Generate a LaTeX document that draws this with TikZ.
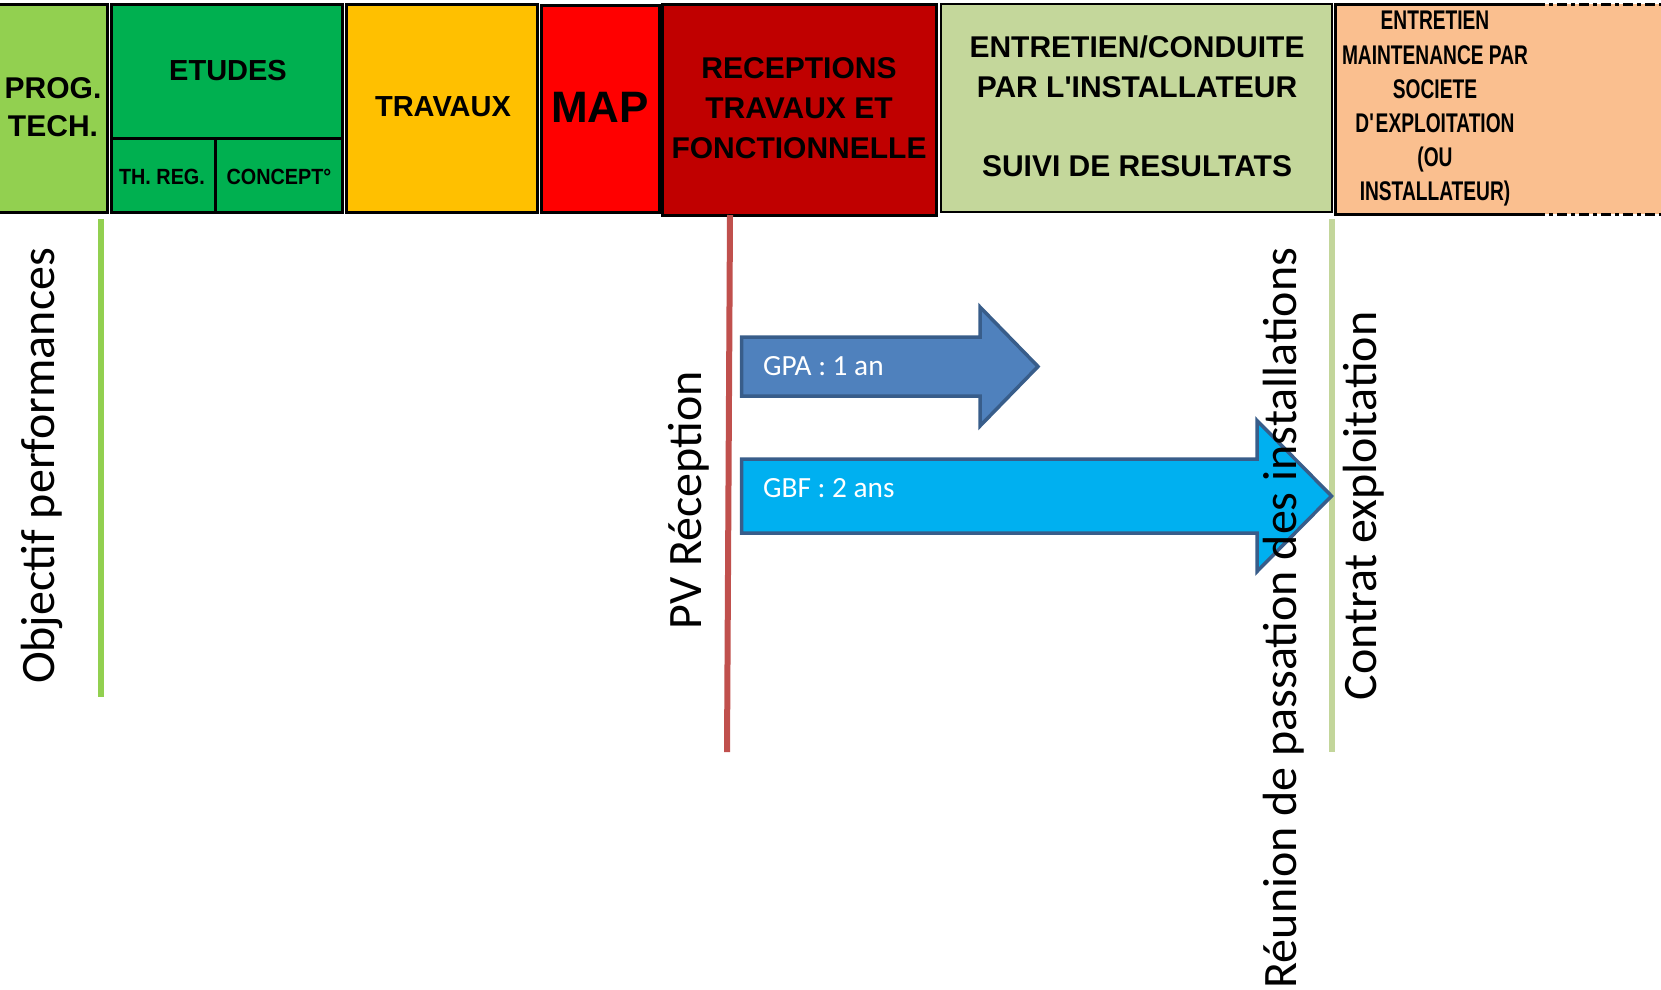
\documentclass[tikz,border=0pt]{standalone}
\usepackage{fontspec}
\setmainfont{Liberation Sans}
\newfontfamily\calib{Carlito}
\newfontfamily\narrowb[FakeStretch=0.71]{Liberation Sans}
\newfontfamily\narrowc[FakeStretch=0.9]{Liberation Sans}
\definecolor{progc}{HTML}{92D050}
\definecolor{etudc}{HTML}{00B050}
\definecolor{travc}{HTML}{FFC000}
\definecolor{mapc}{HTML}{FF0000}
\definecolor{recc}{HTML}{C00000}
\definecolor{entc}{HTML}{C4D79B}
\definecolor{orc}{HTML}{FABF8F}
\definecolor{lineone}{HTML}{92D050}
\definecolor{redline}{HTML}{C0504D}
\definecolor{linetwo}{HTML}{C3D69B}
\definecolor{gpafill}{HTML}{4F81BD}
\definecolor{gbffill}{HTML}{00B0F0}
\definecolor{arrdraw}{HTML}{385D8A}
\tikzset{
  box/.style={draw=black, line width=3pt},
  toplab/.style={inner sep=0pt, align=center, text=black},
  rotlab/.style={rotate=90, inner sep=0pt, text=black, font=\calib\fontsize{48}{56}\selectfont},
  arrlab/.style={anchor=west, inner sep=0pt, text=white, font=\calib\fontsize{29.3}{35}\selectfont},
  bigarrow/.style={draw=arrdraw, line width=3.5pt, line join=miter},
  vline/.style={line width=6pt}
}
\begin{document}
\begin{tikzpicture}[x=1pt,y=-1pt]
\useasboundingbox (0,0) rectangle (1661,989);
% header boxes
\draw[box, fill=progc] (-4,4) rectangle (107,212);
\draw[box, fill=etudc] (111,4) rectangle (342,212);
\draw[box] (111,138) -- (342,138);
\draw[box] (215,138) -- (215,212);
\draw[box, fill=travc] (346,4) rectangle (537,212);
\draw[box, fill=mapc] (541,5) rectangle (659,212);
\draw[box, fill=recc] (662,4) rectangle (936,215);
\draw[draw=black, line width=2.5pt, fill=entc] (941,4) rectangle (1332,212);
\fill[orc] (1335,4) rectangle (1665,214);
\draw[box] (1535,4) -- (1335,4) -- (1335,214) -- (1535,214);
\draw[box, dash pattern=on 10pt off 4pt on 4pt off 4pt] (1535,4) -- (1665,4);
\draw[box, dash pattern=on 10pt off 4pt on 4pt off 4pt] (1535,214) -- (1665,214);
% header labels
\node[toplab, font=\bfseries\fontsize{30}{38}\selectfont] (prog) at (53,107) {PROG.\\TECH.};
\node[toplab, font=\bfseries\fontsize{29}{35}\selectfont] (etudes) at (228,71) {ETUDES};
\node[toplab, font=\narrowc\bfseries\fontsize{22}{26}\selectfont] (threg) at (162,177) {TH. REG.};
\node[toplab, font=\narrowc\bfseries\fontsize{22}{26}\selectfont] (concept) at (279,177) {CONCEPT°};
\node[toplab, font=\bfseries\fontsize{29}{35}\selectfont] (travaux) at (443,107) {TRAVAUX};
\node[toplab, font=\bfseries\fontsize{44}{50}\selectfont] (map) at (600,107) {MAP};
\node[toplab, font=\bfseries\fontsize{30}{40}\selectfont] (recep) at (799,108) {RECEPTIONS\\TRAVAUX ET\\FONCTIONNELLE};
\node[toplab, font=\bfseries\fontsize{30}{39.7}\selectfont] (entr) at (1137,106.5) {ENTRETIEN/CONDUITE\\PAR L\textquotesingle INSTALLATEUR\\[39.7pt]SUIVI DE RESULTATS};
\node[toplab, font=\narrowb\bfseries\fontsize{27}{34.1}\selectfont] (maint) at (1435,108.7) {ENTRETIEN\\MAINTENANCE PAR\\SOCIETE\\D\textquotesingle EXPLOITATION\\(OU\\INSTALLATEUR)};
% vertical milestone lines
\coordinate (ga) at (100.5,219); \coordinate (gb) at (100.5,697);
\coordinate (ra) at (730,215); \coordinate (rb) at (727,752);
\coordinate (ca) at (1332,219); \coordinate (cb) at (1332,752);
\draw[vline, lineone] (ga) -- (gb);
\draw[vline, redline] (ra) -- (rb);
\draw[vline, linetwo] (ca) -- (cb);
% arrows
\draw[bigarrow, fill=gpafill] (741.5,337) -- (980,337) -- (980,307) -- (1038,366.5) -- (980,426) -- (980,396) -- (741.5,396) -- cycle;
\draw[bigarrow, fill=gbffill] (741.5,459) -- (1257,459) -- (1257,420.5) -- (1331.5,496) -- (1257,571.5) -- (1257,533) -- (741.5,533) -- cycle;
\node[arrlab] (gpa) at (763,366.5) {GPA : 1 an};
\node[arrlab] (gbf) at (763,488) {GBF : 2 ans};
% rotated labels
\node[rotlab] (obj) at (42,466) {Objectif performances};
\node[rotlab] (pv) at (688.5,500) {PV Réception};
\node[rotlab] (reun) at (1284,618) {Réunion de passation des installations};
\node[rotlab] (contrat) at (1364,506) {Contrat exploitation};
\end{tikzpicture}
\end{document}
